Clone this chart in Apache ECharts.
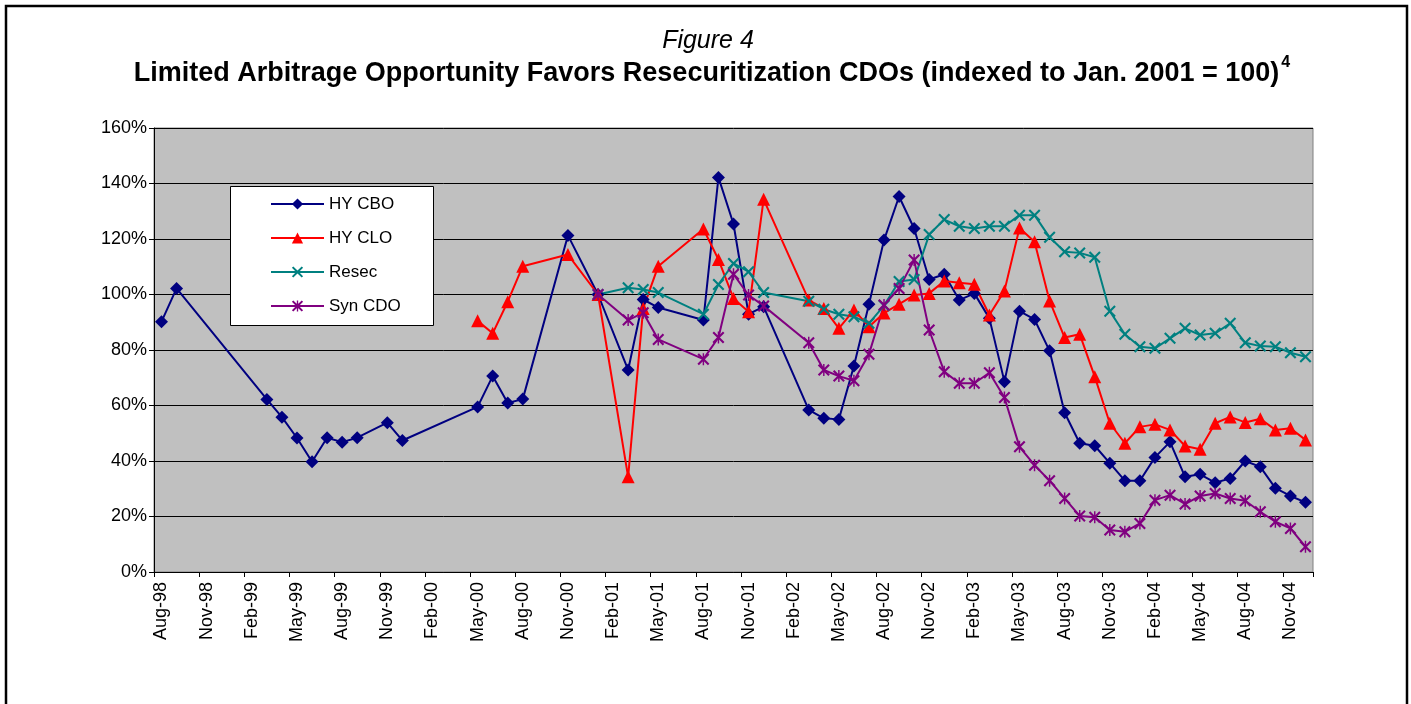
<!DOCTYPE html>
<html>
<head>
<meta charset="utf-8">
<script src="https://cdn.jsdelivr.net/npm/echarts@6/dist/echarts.min.js"></script>
<style>
html,body{margin:0;padding:0;background:#fff;}
#chart{width:1411px;height:704px;}
</style>
</head>
<body>
<div id="chart"></div>
<script>
// Monthly categories, Aug-98 .. Dec-04
const months = [
  'Aug-98','Sep-98','Oct-98','Nov-98','Dec-98',
  'Jan-99','Feb-99','Mar-99','Apr-99','May-99','Jun-99','Jul-99','Aug-99','Sep-99','Oct-99','Nov-99','Dec-99',
  'Jan-00','Feb-00','Mar-00','Apr-00','May-00','Jun-00','Jul-00','Aug-00','Sep-00','Oct-00','Nov-00','Dec-00',
  'Jan-01','Feb-01','Mar-01','Apr-01','May-01','Jun-01','Jul-01','Aug-01','Sep-01','Oct-01','Nov-01','Dec-01',
  'Jan-02','Feb-02','Mar-02','Apr-02','May-02','Jun-02','Jul-02','Aug-02','Sep-02','Oct-02','Nov-02','Dec-02',
  'Jan-03','Feb-03','Mar-03','Apr-03','May-03','Jun-03','Jul-03','Aug-03','Sep-03','Oct-03','Nov-03','Dec-03',
  'Jan-04','Feb-04','Mar-04','Apr-04','May-04','Jun-04','Jul-04','Aug-04','Sep-04','Oct-04','Nov-04','Dec-04'
];

const seriesNames = ['HY CBO', 'HY CLO', 'Resec', 'Syn CDO'];

const hyCbo = [
  90.2, 102.2, null, null, null,
  null, null, 62.2, 55.8, 48.3, 39.7, 48.4, 46.8, 48.4, null, 53.8, 47.4,
  null, null, null, null, 59.5, 70.6, 60.9, 62.3, null, null, 121.3, null,
  100, null, 72.8, 98.2, 95.3, null, null, 90.8, 142.2, 125.4, 92.9, 95.6,
  null, null, 58.4, 55.4, 55.0, 74.2, 96.5, 119.6, 135.3, 123.8, 105.4, 107.3,
  98.0, 100.4, 91.4, 68.6, 94.0, 91.0, 79.7, 57.4, 46.4, 45.5, 39.2, 32.9,
  32.9, 41.3, 46.9, 34.3, 35.2, 32.2, 33.7, 40.0, 37.9, 30.2, 27.4, 25.1
];

const hyClo = [
  null, null, null, null, null,
  null, null, null, null, null, null, null, null, null, null, null, null,
  null, null, null, null, 90.5, 86.0, 97.4, 110.2, null, null, 114.4, null,
  100, null, 34.3, 95.0, 110.2, null, null, 123.6, 112.6, 98.6, 93.8, 134.3,
  null, null, 98.0, 95.0, 87.8, 94.4, 88.4, 93.3, 96.5, 99.8, 100.4, 104.9,
  104.2, 103.7, 92.6, 101.3, 124.0, 119.0, 97.7, 84.5, 85.7, 70.4, 53.6, 46.4,
  52.3, 53.2, 51.2, 45.4, 44.2, 53.6, 55.9, 53.9, 55.2, 51.2, 51.8, 47.6
];

const resec = [
  null, null, null, null, null,
  null, null, null, null, null, null, null, null, null, null, null, null,
  null, null, null, null, null, null, null, null, null, null, null, null,
  100, null, 102.4, 101.8, 100.7, null, null, 92.9, 103.6, 111.2, 108.2, 100.7,
  null, null, 97.6, 94.7, 92.9, 92.0, 89.6, 96.0, 104.7, 105.4, 121.6, 127.0,
  124.6, 123.8, 124.6, 124.6, 128.6, 128.6, 120.6, 115.4, 115.0, 113.4, 94.0, 85.7,
  81.2, 80.6, 84.2, 87.8, 85.4, 86.0, 89.6, 82.6, 81.4, 81.2, 79.0, 77.6
];

const synCdo = [
  null, null, null, null, null,
  null, null, null, null, null, null, null, null, null, null, null, null,
  null, null, null, null, null, null, null, null, null, null, null, null,
  100, null, 90.8, 93.4, 83.8, null, null, 76.7, 84.5, 107.3, 99.8, 95.9,
  null, null, 82.6, 72.8, 70.6, 68.9, 78.5, 96.2, 102.2, 112.4, 87.2, 72.2,
  68.0, 68.0, 71.8, 62.9, 45.1, 38.5, 32.9, 26.5, 20.2, 19.7, 15.1, 14.5,
  17.5, 25.9, 27.7, 24.5, 27.4, 28.3, 26.5, 25.7, 21.7, 18.1, 15.7, 9.1
];

const yTicks = { min: 0, max: 160, interval: 20 };

const colors = ['#000080', '#FF0000', '#008080', '#800080'];

const xSymbol = 'path://M0,2.5L2.5,0L10,7.5L17.5,0L20,2.5L12.5,10L20,17.5L17.5,20L10,12.5L2.5,20L0,17.5L7.5,10Z';
const starSymbol = 'path://M0,2.5L2.5,0L10,7.5L17.5,0L20,2.5L12.5,10L20,17.5L17.5,20L10,12.5L2.5,20L0,17.5L7.5,10Z M8.8,0L11.2,0L11.2,20L8.8,20Z';

const labelFont = '"Liberation Sans", Arial, sans-serif';

function mkSeries(name, data, color, symbol, size) {
  return {
    name: name,
    type: 'line',
    data: data,
    connectNulls: true,
    symbol: symbol,
    symbolSize: size,
    symbolKeepAspect: true,
    showAllSymbol: true,
    lineStyle: { color: color, width: 2 },
    itemStyle: { color: color, borderWidth: 0 },
    emphasis: { disabled: true },
    silent: true,
    animation: false
  };
}

const chart = echarts.init(document.getElementById('chart'), null, { renderer: 'canvas' });

chart.setOption({
  animation: false,
  backgroundColor: '#ffffff',
  color: colors,
  grid: {
    left: 154, right: 98, top: 128, bottom: 132,
    show: true,
    backgroundColor: '#C0C0C0',
    borderColor: '#808080',
    borderWidth: 1,
    containLabel: false
  },
  legend: {
    data: seriesNames,
    orient: 'vertical',
    left: 270,
    top: 195,
    padding: 0,
    itemWidth: 53,
    itemHeight: 14,
    itemGap: 16,
    z: 6,
    selectedMode: false,
    textStyle: { fontFamily: labelFont, fontSize: 17, color: '#000', lineHeight: 18 }
  },
  xAxis: {
    type: 'category',
    data: months,
    boundaryGap: true,
    axisLine: { show: true, lineStyle: { color: '#000', width: 1 } },
    axisTick: { show: true, interval: 2, length: 5, alignWithLabel: false, lineStyle: { color: '#000' } },
    axisLabel: { interval: 2, rotate: 90, margin: 10, fontFamily: labelFont, fontSize: 18, color: '#000' },
    splitLine: { show: false }
  },
  yAxis: {
    type: 'value',
    min: yTicks.min,
    max: yTicks.max,
    interval: yTicks.interval,
    axisLine: { show: true, lineStyle: { color: '#000', width: 1 } },
    axisTick: { show: true, length: 5, lineStyle: { color: '#000' } },
    axisLabel: { formatter: '{value}%', margin: 7, fontFamily: labelFont, fontSize: 18, color: '#000' },
    splitLine: { show: true, lineStyle: { color: '#000', width: 1 } }
  },
  graphic: [
    { type: 'rect', z: 0, shape: { x: 6, y: 6, width: 1401, height: 730 }, style: { fill: 'none', stroke: '#000', lineWidth: 2.5 }, silent: true },
    { type: 'rect', z: 5, shape: { x: 230.5, y: 186.5, width: 203, height: 139 }, style: { fill: '#fff', stroke: '#000', lineWidth: 1 }, silent: true },
    { type: 'text', z: 10, x: 708, y: 41, silent: true,
      style: { text: 'Figure 4', font: 'italic 25px ' + labelFont, fill: '#000', textAlign: 'center', textVerticalAlign: 'middle' } },
    { type: 'text', z: 10, x: 712, y: 55, silent: true,
      style: {
        text: '{m|Limited Arbitrage Opportunity Favors Resecuritization CDOs (indexed to Jan. 2001 = 100)}{s|4}',
        textAlign: 'center', textVerticalAlign: 'top', fill: '#000',
        rich: {
          m: { fontFamily: labelFont, fontWeight: 'bold', fontSize: 27, lineHeight: 32, verticalAlign: 'bottom', fill: '#000' },
          s: { fontFamily: labelFont, fontWeight: 'bold', fontSize: 16, lineHeight: 16, verticalAlign: 'top', fill: '#000', padding: [0, 0, 0, 2] }
        }
      } }
  ],
  series: [
    mkSeries('HY CBO', hyCbo, colors[0], 'diamond', 13),
    mkSeries('HY CLO', hyClo, colors[1], 'triangle', 13),
    mkSeries('Resec', resec, colors[2], xSymbol, 12),
    mkSeries('Syn CDO', synCdo, colors[3], starSymbol, 12)
  ]
});
</script>
</body>
</html>
